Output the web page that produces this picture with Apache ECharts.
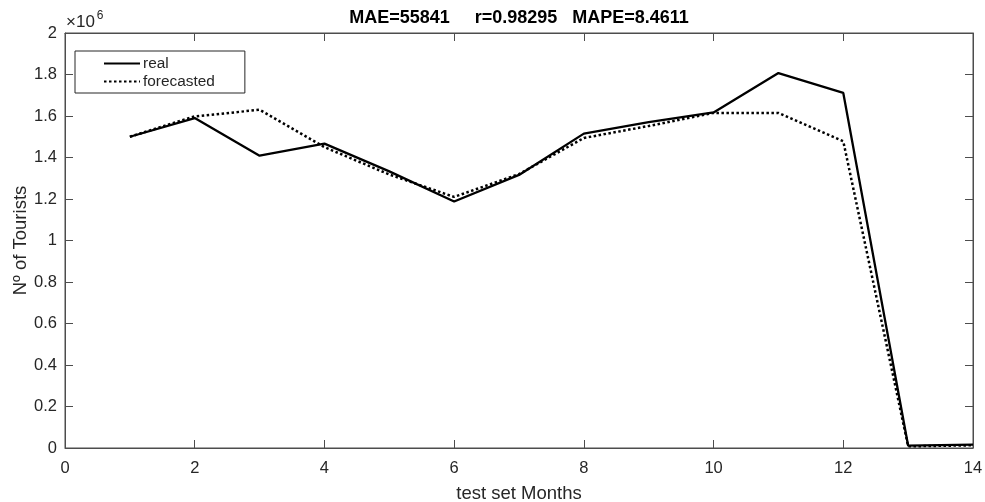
<!DOCTYPE html>
<html>
<head>
<meta charset="utf-8">
<script src="https://cdn.jsdelivr.net/npm/echarts@6/dist/echarts.min.js"></script>
<style>html,body{margin:0;padding:0;background:#fff}#c{width:985px;height:502px}</style>
</head>
<body>
<div id="c"></div>
<script>
const months = [1, 2, 3, 4, 5, 6, 7, 8, 9, 10, 11, 12, 13, 14];
const real = [1500000, 1590000, 1409000, 1467000, 1333000, 1188000, 1316000, 1515000, 1570000, 1617000, 1807000, 1711000, 11000, 16000];
const forecasted = [1500000, 1598000, 1630000, 1450000, 1318000, 1210000, 1320000, 1494000, 1552000, 1615000, 1615000, 1478000, 8000, 13000];
const xTicks = [0, 2, 4, 6, 8, 10, 12, 14];
const yTickLabels = ['0', '0.2', '0.4', '0.6', '0.8', '1', '1.2', '1.4', '1.6', '1.8', '2'];
const titleText = 'MAE=55841     r=0.98295   MAPE=8.4611';

const FONT = 'Liberation Sans, Arial, sans-serif';
const TXT = '#262626';
const chart = echarts.init(document.getElementById('c'), null, {renderer: 'canvas'});
const axisLine = {show: true, onZero: false, lineStyle: {color: '#4d4d4d', width: 1}};
const tick = {show: true, inside: true, length: 8, lineStyle: {color: '#4d4d4d'}};
chart.setOption({
  animation: false,
  backgroundColor: '#fff',
  title: {
    text: titleText, left: 514, top: 4, textAlign: 'center',
    textStyle: {fontFamily: FONT, fontSize: 18, fontWeight: 'bold', color: '#000'}
  },
  grid: {left: 65, right: 12, top: 33, bottom: 54, outerBoundsMode: 'none', containLabel: false,
    show: true, borderColor: '#4d4d4d', borderWidth: 1, backgroundColor: 'transparent'},
  legend: {
    left: 75, top: 51, orient: 'vertical',
    borderColor: '#262626', borderWidth: 1, borderRadius: 0,
    padding: [5, 30, 4, 28], itemGap: 3, itemWidth: 36, itemHeight: 14,
    backgroundColor: '#fff',
    itemStyle: {color: 'rgba(0,0,0,0)', borderWidth: 0, opacity: 0},
    textStyle: {fontFamily: FONT, fontSize: 15.4, color: TXT, padding: [0, 0, 0, -2]},
    data: [{name: 'real'}, {name: 'forecasted'}]
  },
  graphic: [{
    type: 'text', left: 66, top: 10,
    style: {
      text: '{a|×10}{b|6}', fill: TXT,
      rich: {
        a: {fontFamily: FONT, fontSize: 17, fill: TXT, verticalAlign: 'bottom'},
        b: {fontFamily: FONT, fontSize: 12, fill: TXT, verticalAlign: 'top', padding: [0, 0, 9, 2]}
      }
    }
  }],
  xAxis: [{
    type: 'value', min: 0, max: 14, interval: 2,
    name: 'test set Months', nameLocation: 'middle', nameGap: 36,
    nameTextStyle: {fontFamily: FONT, fontSize: 18.5, color: TXT},
    axisLine: axisLine, axisTick: tick, splitLine: {show: false},
    axisLabel: {fontFamily: FONT, fontSize: 16.5, color: TXT, margin: 12,
      formatter: v => xTicks.includes(v) ? String(v) : ''}
  }, {
    type: 'value', min: 0, max: 14, interval: 2, position: 'top', show: true,
    axisLine: axisLine, axisTick: tick, splitLine: {show: false}, axisLabel: {show: false}
  }],
  yAxis: [{
    type: 'value', min: 0, max: 2000000, interval: 200000,
    name: 'Nº of Tourists', nameLocation: 'middle', nameGap: 35, nameRotate: 90,
    nameMoveOverlap: false,
    nameTextStyle: {fontFamily: FONT, fontSize: 18.5, color: TXT},
    axisLine: axisLine, axisTick: tick, splitLine: {show: false},
    axisLabel: {fontFamily: FONT, fontSize: 16.5, color: TXT, margin: 8,
      formatter: v => yTickLabels[Math.round(v / 200000)]}
  }, {
    type: 'value', min: 0, max: 2000000, interval: 200000, position: 'right', show: true,
    axisLine: axisLine, axisTick: tick, splitLine: {show: false}, axisLabel: {show: false}
  }],
  series: [{
    name: 'real', type: 'line', showSymbol: false, symbol: 'none',
    data: months.map((m, i) => [m, real[i]]),
    lineStyle: {color: '#000', width: 2.3, type: 'solid'},
    itemStyle: {color: '#000'}
  }, {
    name: 'forecasted', type: 'line', showSymbol: false, symbol: 'none',
    data: months.map((m, i) => [m, forecasted[i]]),
    lineStyle: {color: '#000', width: 2.5, type: [2.5, 2.5]},
    itemStyle: {color: '#000'}
  }, {
    type: 'line', xAxisIndex: 1, yAxisIndex: 1, data: [], silent: true
  }]
});
</script>
</body>
</html>
